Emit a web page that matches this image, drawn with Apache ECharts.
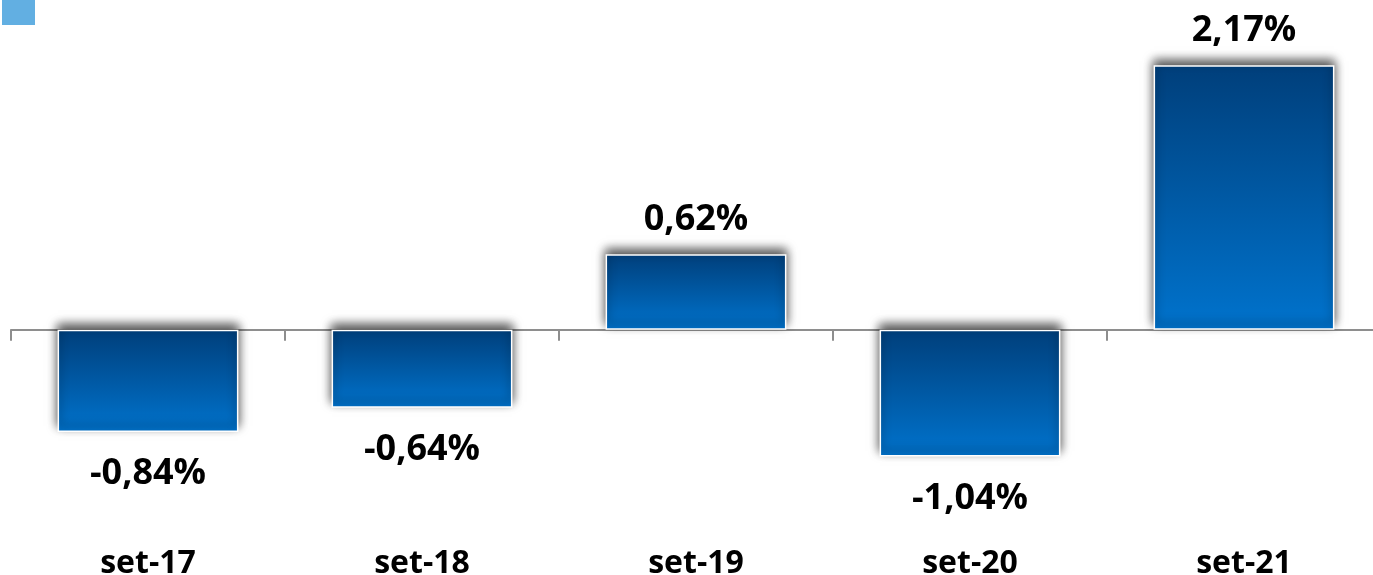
<!DOCTYPE html>
<html>
<head>
<meta charset="utf-8">
<script src="https://cdn.jsdelivr.net/npm/echarts@6/dist/echarts.min.js"></script>
<style>
html,body{margin:0;padding:0;background:#fff;}
#chart{width:1373px;height:575px;}
</style>
</head>
<body>
<div id="chart"></div>
<script>
const categories = ['set-17', 'set-18', 'set-19', 'set-20', 'set-21'];
const values = [-0.84, -0.64, 0.62, -1.04, 2.17];
const seriesName = 'Variação';

const chart = echarts.init(document.getElementById('chart'));
const fmt = v => v.toFixed(2).replace('.', ',') + '%';

const barData = values.map(v => ({
  value: v,
  label: { position: v < 0 ? 'bottom' : 'top', distance: v < 0 ? 24 : 16 }
}));

chart.setOption({
  animation: false,
  legend: {
    show: true, left: 0, top: -2, padding: 0,
    icon: 'rect', itemWidth: 35, itemHeight: 27,
    itemStyle: { color: '#62AFE2' },
    formatter: () => '',
    data: [seriesName]
  },
  grid: { left: 11, width: 1370, top: 25, bottom: 32, containLabel: false, outerBoundsMode: 'none' },
  xAxis: [
    {
      type: 'category', data: categories,
      axisLine: { onZero: true, lineStyle: { color: '#8e8e8e', width: 2 } },
      axisTick: { show: true, length: 11, lineStyle: { color: '#8e8e8e', width: 2 } },
      axisLabel: { show: false }
    },
    {
      type: 'category', data: categories, position: 'bottom',
      axisLine: { show: false, onZero: false },
      axisTick: { show: false },
      axisLabel: {
        show: true, margin: 5, color: '#000',
        fontFamily: 'Open Sans', fontWeight: 'bold', fontSize: 32
      }
    }
  ],
  yAxis: { type: 'value', min: -1.75, max: 2.5, show: false, splitLine: { show: false } },
  series: [{
    name: seriesName,
    type: 'bar',
    xAxisIndex: 0,
    barWidth: '66%',
    data: barData,
    itemStyle: {
      color: new echarts.graphic.LinearGradient(0, 0, 0, 1, [
        { offset: 0, color: '#003f7b' },
        { offset: 1, color: '#0073cd' }
      ]),
      borderColor: '#ffffff', borderWidth: 1.5,
      shadowColor: 'rgba(0,0,0,0.7)', shadowBlur: 10, shadowOffsetY: -5
    },
    label: {
      show: true, color: '#000',
      fontFamily: 'Open Sans', fontWeight: 'bold', fontSize: 36,
      formatter: p => fmt(p.value)
    }
  }]
});
</script>
</body>
</html>
